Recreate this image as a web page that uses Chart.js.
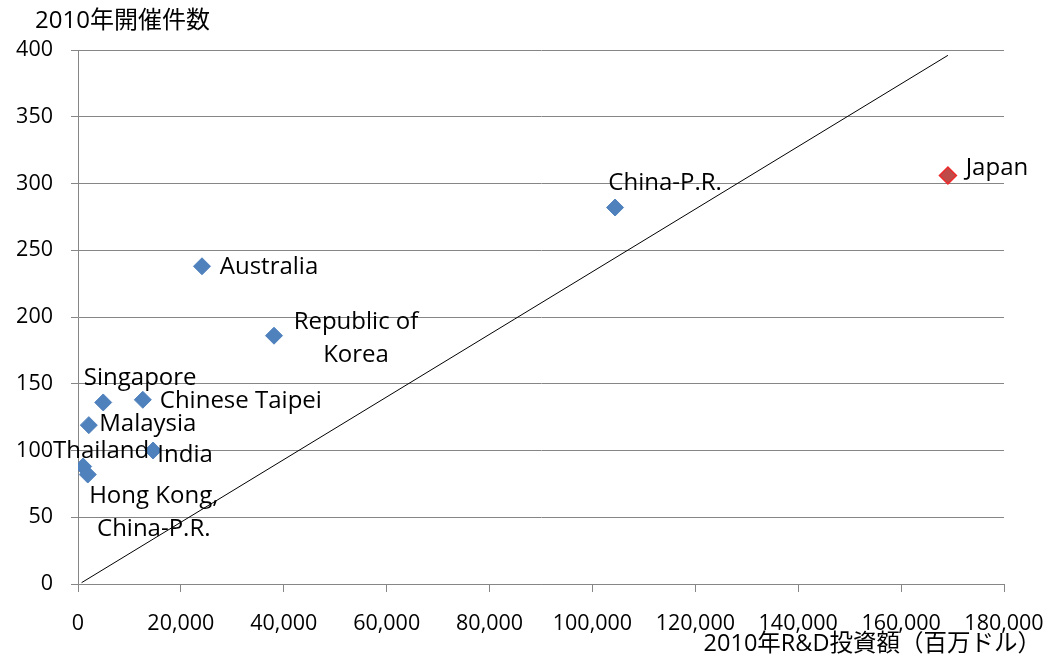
<!DOCTYPE html>
<html>
<head>
<meta charset="utf-8">
<script src="https://cdn.jsdelivr.net/npm/chart.js@4"></script>
<style>
  html, body { margin: 0; padding: 0; background: #ffffff; }
  #wrap { width: 1051px; height: 657px; }
</style>
</head>
<body>
<div id="wrap"><canvas id="c" width="1051" height="657"></canvas></div>
<script>
// Countries (blue markers) and their values
const countries = ['Australia', 'Republic of\nKorea', 'China-P.R.', 'Chinese Taipei', 'Singapore',
                   'Malaysia', 'India', 'Thailand', 'Hong Kong,\nChina-P.R.'];
const rdInvestment = [24100, 38100, 104400, 12600, 4900, 2100, 14600, 1000, 1900];   // 2010 R&D, million USD
const eventCount   = [238, 186, 282, 138, 136, 119, 100, 88, 82];                     // 2010 events held

// Highlighted country (red marker)
const highlightName = 'Japan';
const highlightRd = [169100];
const highlightEvents = [306];

// Straight reference line
const refLineX = [700, 169100];
const refLineY = [1, 396];

// Axis ranges / titles
const xTicks = { min: 0, max: 180000, step: 20000 };
const yTicks = { min: 0, max: 400, step: 50 };
const yTitle = '2010年開催件数';
const xTitle = '2010年R&D投資額（百万ドル）';

// Label placement (text centre relative to marker, px)
const labelOffsets = [
  [67, 1], [82, -14], [50, -24], [98, 1], [37, -24],
  [59, -1], [32, 5], [18, -15], [66, 22]
];
const highlightOffset = [49, -7];

const LATIN = '"Open Sans", "Noto Sans CJK JP", sans-serif';
const CJK = '"Open Sans", "Noto Sans CJK JP", sans-serif';
const GRID = '#868686';

const toPoints = (xs, ys) => xs.map((x, i) => ({ x, y: ys[i] }));

const pointLabels = {
  id: 'pointLabels',
  afterDatasetsDraw(chart) {
    const ctx = chart.ctx;
    ctx.save();
    ctx.font = '24px ' + LATIN;
    ctx.fillStyle = '#000';
    ctx.textAlign = 'center';
    ctx.textBaseline = 'middle';
    const draw = (text, el, off) => {
      text.split('\n').forEach((line, k) => {
        ctx.fillText(line, el.x + off[0], el.y + off[1] + k * 33);
      });
    };
    chart.getDatasetMeta(0).data.forEach((el, i) => draw(countries[i], el, labelOffsets[i]));
    chart.getDatasetMeta(1).data.forEach(el => draw(highlightName, el, highlightOffset));
    ctx.restore();
  }
};

const axisTitles = {
  id: 'axisTitles',
  afterDraw(chart) {
    const ctx = chart.ctx;
    ctx.save();
    ctx.fillStyle = '#000';
    ctx.textBaseline = 'middle';
    ctx.font = '24px ' + CJK;
    ctx.textAlign = 'left';
    ctx.fillText(yTitle, 35, 21);
    ctx.font = '23.5px ' + CJK;
    ctx.textAlign = 'right';
    ctx.fillText(xTitle, 1041, 644);
    ctx.restore();
  }
};

new Chart(document.getElementById('c'), {
  type: 'scatter',
  data: {
    datasets: [
      {
        data: toPoints(rdInvestment, eventCount),
        pointStyle: 'rectRot',
        pointRadius: 8.5,
        pointHoverRadius: 8.5,
        backgroundColor: '#4F81BD',
        borderColor: '#4F81BD',
        borderWidth: 1
      },
      {
        data: toPoints(highlightRd, highlightEvents),
        pointStyle: 'rectRot',
        pointRadius: 8.5,
        pointHoverRadius: 8.5,
        backgroundColor: '#BE4B48',
        borderColor: '#F02A2A',
        borderWidth: 1.5
      },
      {
        type: 'line',
        data: toPoints(refLineX, refLineY),
        borderColor: '#000000',
        borderWidth: 1,
        pointRadius: 0,
        fill: false,
        tension: 0
      }
    ]
  },
  options: {
    responsive: false,
    animation: false,
    events: [],
    layout: { padding: { top: 50, right: 47, left: 0, bottom: 0 } },
    plugins: { legend: { display: false }, tooltip: { enabled: false } },
    scales: {
      x: {
        type: 'linear',
        min: xTicks.min, max: xTicks.max,
        afterFit(scale) {
          scale.height = 73;
          scale.paddingLeft = 0;
          scale.paddingRight = 0;
        },
        ticks: {
          stepSize: xTicks.step,
          color: '#000',
          font: { family: LATIN, size: 21.5 },
          padding: 19,
          maxRotation: 0,
          callback: v => v.toLocaleString('en-US')
        },
        grid: { drawOnChartArea: false, drawTicks: true, tickLength: 8, color: GRID },
        border: { color: GRID, width: 1 }
      },
      y: {
        type: 'linear',
        min: yTicks.min, max: yTicks.max,
        afterFit(scale) {
          scale.width = 78;
          scale.paddingTop = 0;
          scale.paddingBottom = 0;
        },
        ticks: {
          stepSize: yTicks.step,
          color: '#000',
          font: { family: LATIN, size: 21.5 },
          padding: 18
        },
        grid: { drawOnChartArea: true, drawTicks: true, tickLength: 7, color: GRID },
        border: { color: GRID, width: 1 }
      }
    }
  },
  plugins: [pointLabels, axisTitles]
});
</script>
</body>
</html>
